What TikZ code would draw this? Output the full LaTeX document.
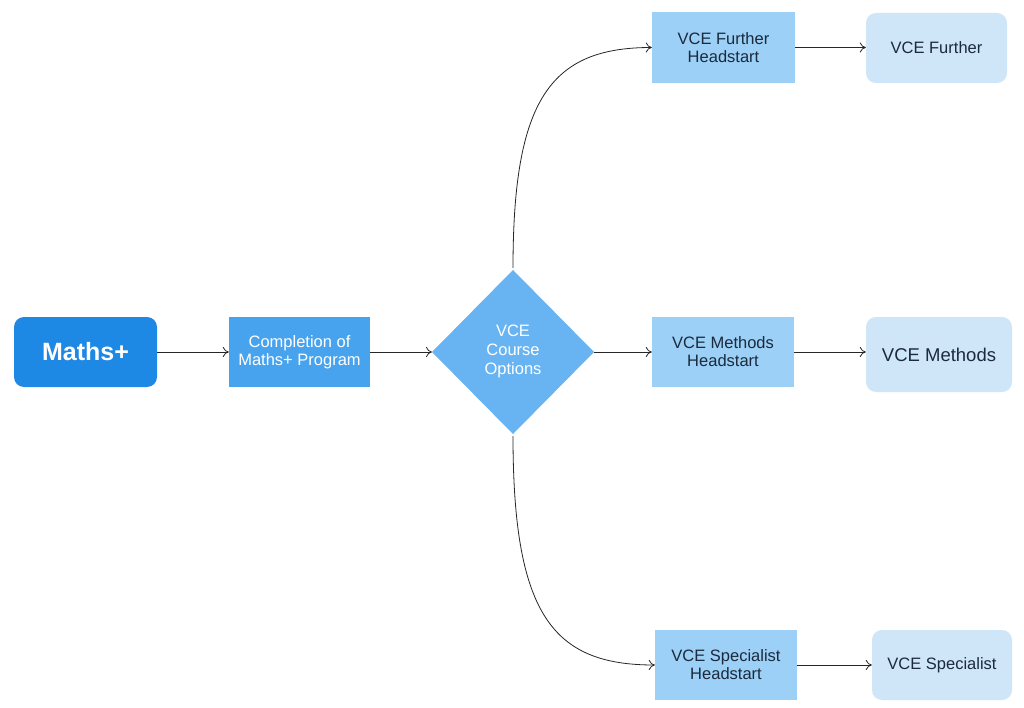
\documentclass[tikz,border=0pt]{standalone}
\usepackage{fontspec}
\setmainfont{Liberation Sans}
\usetikzlibrary{shapes.geometric,arrows.meta}
\definecolor{cMain}{HTML}{1E88E5}
\definecolor{cComp}{HTML}{47A3EE}
\definecolor{cDia}{HTML}{68B4F2}
\definecolor{cHead}{HTML}{9DD0F7}
\definecolor{cFin}{HTML}{CFE6F9}
\definecolor{cTxt}{HTML}{1B2A3C}
\tikzset{
  box/.style={draw=none, inner sep=0pt, align=center, font=\fontsize{16.5}{18}\selectfont},
  mainbox/.style={box, fill=cMain, rounded corners=10pt, text=white, font=\fontsize{25}{28}\selectfont\bfseries},
  compbox/.style={box, fill=cComp, text=white, font=\fontsize{16.5}{18}\selectfont},
  headbox/.style={box, fill=cHead, text=cTxt},
  finbox/.style={box, fill=cFin, rounded corners=10pt, text=cTxt},
  conn/.style={draw=black!85, line width=0.8pt, -{To[length=6pt,width=10pt]}},
}
\begin{document}
\begin{tikzpicture}[x=1pt,y=-1pt]
\useasboundingbox (0,0) rectangle (1024,708);
\fill[white] (0,0) rectangle (1024,708);
% nodes
\node[mainbox, minimum width=143pt, minimum height=70pt] (maths) at (85.5,352) {Maths+};
\node[compbox, minimum width=141pt, minimum height=70pt] (comp) at (299.5,352) {Completion of\\Maths+ Program};
\fill[cDia] (432,352) -- (513,270) -- (594,352) -- (513,434) -- cycle;
\coordinate (diaL) at (432,352);
\coordinate (diaR) at (594,352);
\coordinate (diaT) at (513,268);
\coordinate (diaB) at (513,436);
\node[box, text=white, font=\fontsize{16.5}{19}\selectfont] (dia) at (513,351) {VCE\\Course\\Options};
\node[headbox, minimum width=143pt, minimum height=71pt] (hf) at (723.5,47.5) {VCE Further\\Headstart};
\node[headbox, minimum width=142pt, minimum height=70pt] (hm) at (723,352) {VCE Methods\\Headstart};
\node[headbox, minimum width=142pt, minimum height=70pt] (hs) at (726,665) {VCE Specialist\\Headstart};
\node[finbox, minimum width=141pt, minimum height=70pt] (ff) at (936.5,48) {VCE Further};
\node[finbox, minimum width=146pt, minimum height=75pt, font=\fontsize{18.5}{20}\selectfont] (fm) at (939,354.5) {VCE Methods};
\node[finbox, minimum width=140pt, minimum height=70pt] (fs) at (942,665) {VCE Specialist};
% connectors
\draw[conn] (maths.east) -- (comp.west);
\draw[conn] (comp.east) -- (diaL);
\draw[conn] (diaR) -- (hm.west);
\draw[conn] (diaT) .. controls (513,100) and (550,47.5) .. (hf.west);
\draw[conn] (diaB) .. controls (513,615) and (553,665) .. (hs.west);
\draw[conn] (hf.east) -- (ff.west |- hf.east);
\draw[conn] (hm.east) -- (fm.west |- hm.east);
\draw[conn] (hs.east) -- (fs.west);
\end{tikzpicture}
\end{document}
